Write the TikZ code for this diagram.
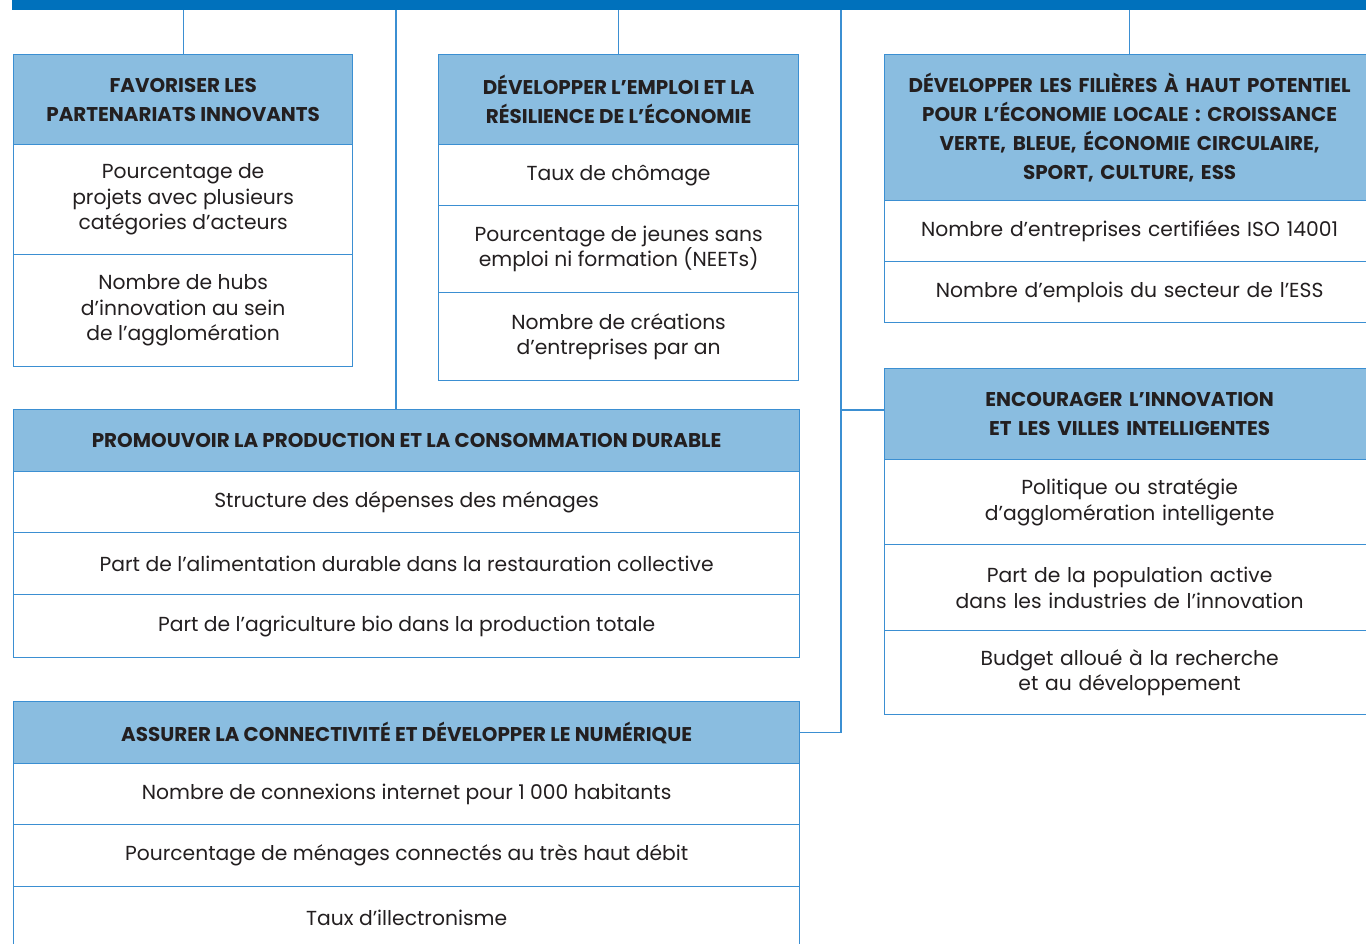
\documentclass[tikz,border=0pt]{standalone}
\usepackage{fontspec}
\setmainfont{Poppins}
\definecolor{barblue}{HTML}{0071BC}
\definecolor{hfill}{HTML}{8ABDE0}
\definecolor{edge}{HTML}{3B8FD2}
\definecolor{ink}{HTML}{231F20}
\begin{document}
\begin{tikzpicture}[x=1pt,y=-1pt,
 hdr/.style={draw=edge, fill=hfill, line width=1.3pt, anchor=north west, inner sep=0pt, align=center, font=\bfseries\fontsize{19.9}{29}\selectfont, text=ink},
 cell/.style={draw=edge, fill=white, line width=1.3pt, anchor=north west, inner sep=0pt, align=center, font=\fontsize{20.3}{25.5}\selectfont, text=ink},
 link/.style={draw=edge, line width=1.3pt}]
\useasboundingbox (0,0) rectangle (1366,943);
\node[fill=barblue, minimum width=1360pt, minimum height=10pt, anchor=north west, inner sep=0pt] (bar) at (12,0) {};
% Box 1
\node[hdr, minimum width=339pt, minimum height=90pt] (h1) at (13,54) {FAVORISER LES\\PARTENARIATS INNOVANTS};
\node[cell, minimum width=339pt, minimum height=110pt] (c11) at (13,144) {Pourcentage de\\projets avec plusieurs\\catégories d’acteurs};
\node[cell, minimum width=339pt, minimum height=112pt] (c12) at (13,254) {Nombre de hubs\\d’innovation au sein\\de l’agglomération};
% Box 2
\node[hdr, minimum width=360pt, minimum height=90pt] (h2) at (438,54) {DÉVELOPPER L’EMPLOI ET LA\\RÉSILIENCE DE L’ÉCONOMIE};
\node[cell, minimum width=360pt, minimum height=61pt] (c21) at (438,144) {Taux de chômage};
\node[cell, minimum width=360pt, minimum height=87pt] (c22) at (438,205) {Pourcentage de jeunes sans\\emploi ni formation (NEETs)};
\node[cell, minimum width=360pt, minimum height=88pt] (c23) at (438,292) {Nombre de créations\\d’entreprises par an};
% Box 3
\node[hdr, minimum width=490pt, minimum height=146pt, text width=480pt] (h3) at (884,54) {DÉVELOPPER LES FILIÈRES À HAUT POTENTIEL\\POUR L’ÉCONOMIE LOCALE : CROISSANCE\\VERTE, BLEUE, ÉCONOMIE CIRCULAIRE,\\SPORT, CULTURE, ESS};
\node[cell, minimum width=490pt, minimum height=61pt, text width=480pt] (c31) at (884,200) {Nombre d’entreprises certifiées ISO 14001};
\node[cell, minimum width=490pt, minimum height=61pt, text width=480pt] (c32) at (884,261) {Nombre d’emplois du secteur de l’ESS};
% Box 4
\node[hdr, minimum width=786pt, minimum height=62pt] (h4) at (13,409) {PROMOUVOIR LA PRODUCTION ET LA CONSOMMATION DURABLE};
\node[cell, minimum width=786pt, minimum height=61pt] (c41) at (13,471) {Structure des dépenses des ménages};
\node[cell, minimum width=786pt, minimum height=62pt] (c42) at (13,532) {Part de l’alimentation durable dans la restauration collective};
\node[cell, minimum width=786pt, minimum height=63pt] (c43) at (13,594) {Part de l’agriculture bio dans la production totale};
% Box 5
\node[hdr, minimum width=490pt, minimum height=91pt, text width=480pt] (h5) at (884,368) {ENCOURAGER L’INNOVATION\\ET LES VILLES INTELLIGENTES};
\node[cell, minimum width=490pt, minimum height=85pt, text width=480pt] (c51) at (884,459) {Politique ou stratégie\\d’agglomération intelligente};
\node[cell, minimum width=490pt, minimum height=86pt, text width=480pt] (c52) at (884,544) {Part de la population active\\dans les industries de l’innovation};
\node[cell, minimum width=490pt, minimum height=84pt, text width=480pt] (c53) at (884,630) {Budget alloué à la recherche\\et au développement};
% Box 6
\node[hdr, minimum width=786pt, minimum height=62pt] (h6) at (13,701) {ASSURER LA CONNECTIVITÉ ET DÉVELOPPER LE NUMÉRIQUE};
\node[cell, minimum width=786pt, minimum height=61pt] (c61) at (13,763) {Nombre de connexions internet pour 1 000 habitants};
\node[cell, minimum width=786pt, minimum height=62pt] (c62) at (13,824) {Pourcentage de ménages connectés au très haut débit};
\node[cell, minimum width=786pt, minimum height=70pt, text depth=0pt] (c63) at (13,886) {\raisebox{8pt}{Taux d’illectronisme}};
% connectors
\coordinate (j4) at (396,409);
\coordinate (spine) at (841,10);
\coordinate (j5) at (884,410);
\draw[link] (bar.south -| h1.north) -- (h1.north);
\draw[link] (bar.south -| h2.north) -- (h2.north);
\draw[link] (bar.south -| c31.north) -- (c31.north |- h3.north);
\draw[link] (bar.south -| j4) -- (j4);
\draw[link] (spine) -- (spine |- h6.east) -- (h6.east);
\draw[link] (spine |- j5) -- (j5);
\end{tikzpicture}
\end{document}
